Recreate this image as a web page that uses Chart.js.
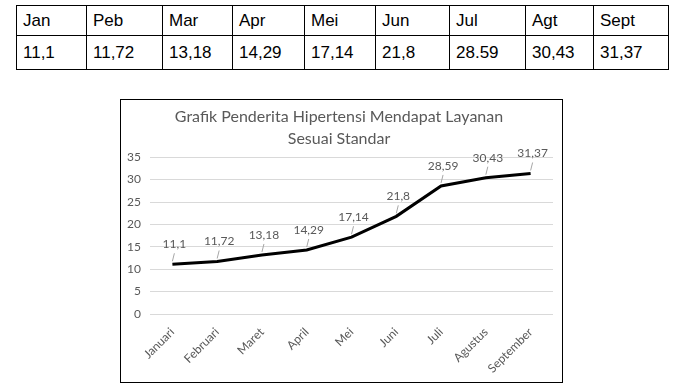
<!DOCTYPE html>
<html>
<head>
<meta charset="utf-8">
<script src="https://cdn.jsdelivr.net/npm/chart.js@4.4.1/dist/chart.umd.min.js"></script>
<style>
  body { margin: 0; background: #fff; width: 677px; height: 391px; position: relative; overflow: hidden; }
  table { position: absolute; left: 16px; top: 5px; border-collapse: collapse; font-family: "Liberation Sans", Arial, sans-serif; font-size: 17px; color: #000; }
  td { border: 1px solid #000; padding: 0 0 0 6px; height: 29px; vertical-align: middle; }
  tr.vals td { height: 33px; }
  #box { position: absolute; left: 120px; top: 99px; width: 441px; height: 282px; border: 1px solid #000; }
</style>
</head>
<body>
<table id="tbl"></table>
<div id="box"><canvas id="chart" width="441" height="282"></canvas></div>
<script>
// table data
const tableHeads = ['Jan', 'Peb', 'Mar', 'Apr', 'Mei', 'Jun', 'Jul', 'Agt', 'Sept'];
const tableVals = ['11,1', '11,72', '13,18', '14,29', '17,14', '21,8', '28.59', '30,43', '31,37'];
const colWidths = [70, 76, 70, 72, 71, 74, 76, 68, 75];

// chart data
const months = ['Januari', 'Februari', 'Maret', 'April', 'Mei', 'Juni', 'Juli', 'Agustus', 'September'];
const values = [11.1, 11.72, 13.18, 14.29, 17.14, 21.8, 28.59, 30.43, 31.37];

const tbl = document.getElementById('tbl');
const r1 = tbl.insertRow();
const r2 = tbl.insertRow();
r2.className = 'vals';
tableHeads.forEach(function (h, i) {
    const c = r1.insertCell();
    c.textContent = h;
    c.style.width = (colWidths[i] - 7) + 'px';
    r2.insertCell().textContent = tableVals[i];
});

// labels above each point, Excel style with a small leader line
const pointLabels = {
    id: 'pointLabels',
    afterDatasetsDraw(chart) {
        const ctx = chart.ctx;
        const meta = chart.getDatasetMeta(0);
        ctx.save();
        ctx.font = '12px Lato, "Open Sans", sans-serif';
        ctx.fillStyle = '#595959';
        ctx.strokeStyle = '#a6a6a6';
        ctx.lineWidth = 1;
        ctx.textAlign = 'center';
        ctx.textBaseline = 'bottom';
        meta.data.forEach(function (pt, i) {
            const txt = String(values[i]).replace('.', ',');
            ctx.beginPath();
            ctx.moveTo(pt.x, pt.y - 3);
            ctx.lineTo(pt.x + 2, pt.y - 11);
            ctx.stroke();
            ctx.fillText(txt, pt.x + 2, pt.y - 14);
        });
        ctx.restore();
    }
};

const chart = new Chart(document.getElementById('chart').getContext('2d'), {
    type: 'line',
    data: {
        labels: months,
        datasets: [{
            data: values,
            borderColor: '#000',
            borderWidth: 3,
            pointRadius: 0,
            tension: 0,
            fill: false
        }]
    },
    plugins: [pointLabels],
    options: {
        responsive: false,
        animation: false,
        layout: { padding: { left: 4, right: 9, top: 4, bottom: 0 } },
        plugins: {
            legend: { display: false },
            tooltip: { enabled: false },
            title: {
                display: true,
                text: ['Grafik Penderita Hipertensi Mendapat Layanan', 'Sesuai Standar'],
                color: '#595959',
                font: { family: 'Lato, "Open Sans", sans-serif', size: 16, weight: 'normal', lineHeight: 1.35 },
                padding: { top: 2, bottom: 8 }
            }
        },
        scales: {
            x: {
                offset: true,
                grid: { display: false },
                border: { display: false },
                afterFit(scale) { scale.height = 68; },
                ticks: {
                    color: '#595959',
                    font: { family: 'Lato, "Open Sans", sans-serif', size: 12 },
                    minRotation: 45,
                    maxRotation: 45,
                    autoSkip: false
                }
            },
            y: {
                min: 0,
                max: 35,
                afterFit(scale) { scale.width = 25; },
                ticks: {
                    stepSize: 5,
                    color: '#595959',
                    padding: 9,
                    font: { family: 'Lato, "Open Sans", sans-serif', size: 12 }
                },
                grid: { color: '#d9d9d9', drawTicks: false },
                border: { display: false }
            }
        }
    }
});
</script>
</body>
</html>
